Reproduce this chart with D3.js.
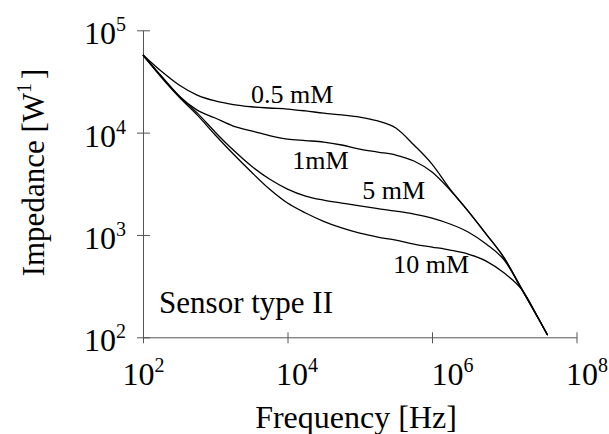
<!DOCTYPE html>
<html lang="en">
<head>
<meta charset="utf-8">
<title>Impedance vs frequency</title>
<script src="https://cdn.jsdelivr.net/npm/d3@7"></script>
<style>
  body { margin: 0; background: #fff; }
  text { font-family: "Liberation Serif", "Times New Roman", serif; fill: #000; }
</style>
</head>
<body>
<svg class="chart"></svg>
<script>
  // 1. data (quarter-decade steps)
  var frequency = [100, 178, 316, 562, 1000, 1778, 3162, 5623, 10000, 17783, 31623, 56234,
                   100000, 177828, 316228, 562341, 1000000, 1778279, 3162278, 5623413,
                   10000000, 17782794, 31622777, 39810717];
  var imp05 = [57400, 40000, 29200, 23300, 20400, 18800, 17900, 17400, 17000, 16300, 15500, 14900,
               14200, 13000, 11100, 7570, 4930, 2810, 1710, 1020, 595, 289, 141, 105];
  var imp1  = [57400, 35800, 22800, 16600, 13900, 11600, 10400, 9370, 8660, 8370, 8090, 7570,
               6910, 6460, 6040, 5280, 4120, 2750, 1710, 1020, 595, 289, 141, 105];
  var imp5  = [57400, 35800, 22800, 15600, 10100, 6760, 4720, 3520, 2810, 2400, 2190, 2050,
               1920, 1810, 1710, 1600, 1460, 1280, 1070, 815, 568, 289, 141, 105];
  var imp10 = [57400, 35000, 22300, 14900, 9480, 6180, 4120, 2810, 2050, 1640, 1360, 1170,
               1040, 954, 891, 815, 762, 712, 651, 556, 424, 289, 141, 105];
  var seriesNames = ["0.5 mM", "1mM", "5 mM", "10 mM"];
  var xTicks = [1e2, 1e4, 1e6, 1e8];
  var yTicks = [1e2, 1e3, 1e4, 1e5];

  // 2. sizes
  var W = 609, H = 434;
  var plotLeft = 143, plotRight = 576.5, plotTop = 30.3, plotBottom = 337.3;

  var svg = d3.select(".chart").attr("width", W).attr("height", H);

  // 3. scales
  var x = d3.scaleLog().domain([1e2, 1e8]).range([plotLeft, plotRight]);
  var y = d3.scaleLog().domain([1e2, 1e5]).range([plotBottom, plotTop]);

  function sup(sel, base, exp, size) {
    sel.text(null);
    sel.append("tspan").text(base);
    sel.append("tspan").attr("dy", -13).style("font-size", size + "px").text(exp);
  }

  // 4. x axis
  var xShift = [0, 9, 20, 10];   // the labels in the picture sit a bit off their ticks
  var gx = svg.append("g")
    .attr("transform", "translate(0," + plotBottom + ")")
    .call(d3.axisBottom(x).tickValues(xTicks).tickSizeInner(6).tickSizeOuter(0));
  gx.select(".domain").attr("stroke", "#555");
  gx.selectAll(".tick line").attr("stroke", "#555");
  gx.selectAll(".tick").append("line").attr("stroke", "#555").attr("y2", -5);
  gx.selectAll(".tick text")
    .attr("y", 48).attr("dy", null).attr("x", function(d, i) { return xShift[i]; })
    .style("font-size", "32px").attr("text-anchor", "middle")
    .each(function(d) { sup(d3.select(this), "10", Math.round(Math.log10(d)), 20); });

  // 5. y axis
  var gy = svg.append("g")
    .attr("transform", "translate(" + plotLeft + ",0)")
    .call(d3.axisLeft(y).tickValues(yTicks).tickSizeInner(6).tickSizeOuter(0));
  gy.select(".domain").attr("stroke", "#555");
  gy.selectAll(".tick line").attr("stroke", "#555");
  gy.selectAll(".tick").append("line").attr("stroke", "#555").attr("x2", 7);
  gy.selectAll(".tick text")
    .attr("x", -17).attr("y", 13.5).attr("dy", null)
    .style("font-size", "32px").attr("text-anchor", "end")
    .each(function(d) { sup(d3.select(this), "10", Math.round(Math.log10(d)), 20); });

  // 6. axis titles
  svg.append("text")
    .attr("x", 356).attr("y", 428)
    .attr("text-anchor", "middle").style("font-size", "32px")
    .text("Frequency [Hz]");

  var yt = svg.append("text")
    .attr("transform", "translate(43.5,172.5) rotate(-90)")
    .attr("text-anchor", "middle").style("font-size", "31px");
  yt.append("tspan").text("Impedance [W");
  yt.append("tspan").attr("dy", -13).style("font-size", "20px").text("1");
  yt.append("tspan").attr("dy", 13).attr("dx", 4).text("]");

  // 7. curves
  var allSeries = [imp05, imp1, imp5, imp10];
  var line = d3.line()
    .x(function(d) { return x(d[0]); })
    .y(function(d) { return y(d[1]); })
    .curve(d3.curveMonotoneX);

  svg.selectAll(".curve")
    .data(allSeries)
    .enter().append("path")
    .attr("class", "curve")
    .attr("fill", "none")
    .attr("stroke", "#000")
    .attr("stroke-width", 1.3)
    .attr("d", function(s) { return line(frequency.map(function(f, i) { return [f, s[i]]; })); });

  // 8. labels (placed in data units)
  var notes = [
    { t: seriesNames[0], f: 3130, z: 19460, size: 26 },
    { t: seriesNames[1], f: 11600, z: 4400, size: 26 },
    { t: seriesNames[2], f: 108000, z: 2240, size: 26 },
    { t: seriesNames[3], f: 290000, z: 425, size: 26 },
    { t: "Sensor type II", f: 167, z: 173, size: 31 }
  ];
  svg.selectAll(".note")
    .data(notes)
    .enter().append("text")
    .attr("class", "note")
    .attr("x", function(d) { return x(d.f); })
    .attr("y", function(d) { return y(d.z); })
    .style("font-size", function(d) { return d.size + "px"; })
    .text(function(d) { return d.t; });
</script>
</body>
</html>
